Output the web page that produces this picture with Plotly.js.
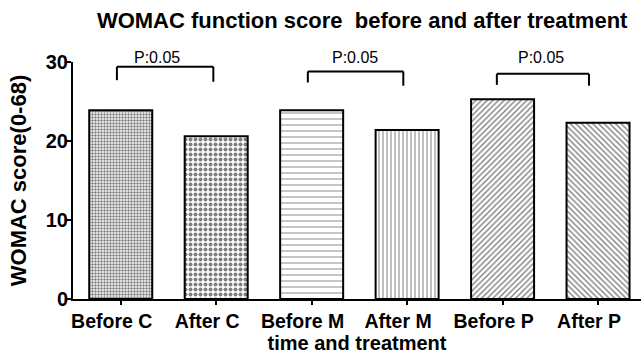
<!DOCTYPE html>
<html><head><meta charset="utf-8">
<script src="https://cdn.plot.ly/plotly-3.0.1.min.js"></script>
<style>html,body{margin:0;padding:0;background:#fff}#c{width:641px;height:360px}</style>
</head><body><div id="c"></div>
<script>
const categories = ["Before C","After C","Before M","After M","Before P","After P"];
const scores = [23.9, 20.6, 23.9, 21.4, 25.3, 22.3];
const pLabels = ["P:0.05","P:0.05","P:0.05"];
const patterns = [".", ".", "-", "|", "/", "\\"];
const patSizes = [3, 5, 6, 4, 4, 4];
const patSolid = [0.5, 0.5, 0.15, 0.25, 0.35, 0.35];

const FONT = "Liberation Sans, Arial, sans-serif";
const traces = [{
  type: "bar", x: categories, y: scores, width: 0.66,
  marker: {
    color: "white",
    line: {color: "black", width: 2},
    pattern: {shape: patterns, fgcolor: "black", bgcolor: "white", size: patSizes, solidity: patSolid, fillmode: "overlay"}
  },
  hoverinfo: "skip"
}];

const bracketTops = [29.4, 28.8, 28.5];
const bracketLeftBottoms = [27.7, 27.4, 27.1];
const bracketRightBottoms = [27.5, 27.0, 27.0];
const leftOff = [-0.04, -0.04, -0.06];
const rightOff = [-0.03, -0.04, -0.095];
const textOff = [0.38, 0.45, 0.40];
const shapes = [], annotations = [];
for (let k = 0; k < 3; k++) {
  const a = 2*k + leftOff[k], b = 2*k + 1 + rightOff[k];
  const line = {color: "black", width: 2};
  shapes.push({type:"line", xref:"x", yref:"y", x0:a, x1:b, y0:bracketTops[k], y1:bracketTops[k], line});
  shapes.push({type:"line", xref:"x", yref:"y", x0:a, x1:a, y0:bracketTops[k], y1:bracketLeftBottoms[k], line});
  shapes.push({type:"line", xref:"x", yref:"y", x0:b, x1:b, y0:bracketTops[k], y1:bracketRightBottoms[k], line});
  annotations.push({xref:"x", yref:"paper", x:2*k+textOff[k], y:1.02, text:pLabels[k], showarrow:false,
    font:{family:FONT, size:16, color:"black"}, yanchor:"middle", xanchor:"center"});
}

const layout = {
  width: 641, height: 360,
  margin: {l: 73, r: 0, t: 62, b: 61},
  paper_bgcolor: "white", plot_bgcolor: "white",
  showlegend: false,
  font: {family: FONT, color: "black"},
  title: {text: "<b>WOMAC function score  before and after treatment</b>", x: 0.565, xanchor: "center", y: 0.944, yanchor: "middle",
    font: {size: 22, color: "black"}},
  xaxis: {
    type: "category", range: [-0.5, 5.45],
    showline: true, linecolor: "black", linewidth: 2,
    ticks: "outside", ticklen: 4, tickwidth: 2, tickcolor: "black",
    tickfont: {size: 19.5, color: "black", weight: "bold"},
    ticklabelshift: -9,
    showgrid: false, zeroline: false,
    title: {text: "<b>time and treatment</b>", font: {size: 20, color: "black"}, standoff: 3}
  },
  yaxis: {
    range: [0, 30], tickvals: [0, 10, 20, 30],
    showline: true, linecolor: "black", linewidth: 2,
    ticks: "outside", ticklen: 5, tickwidth: 2, tickcolor: "black",
    tickfont: {size: 20, color: "black", weight: "bold"},
    ticklabelstandoff: -6,
    showgrid: false, zeroline: false,
    title: {text: "<b>WOMAC score(0-68)</b>", font: {size: 22, color: "black"}, standoff: 13}
  },
  shapes, annotations
};
Plotly.newPlot("c", traces, layout, {staticPlot: true});
</script></body></html>
